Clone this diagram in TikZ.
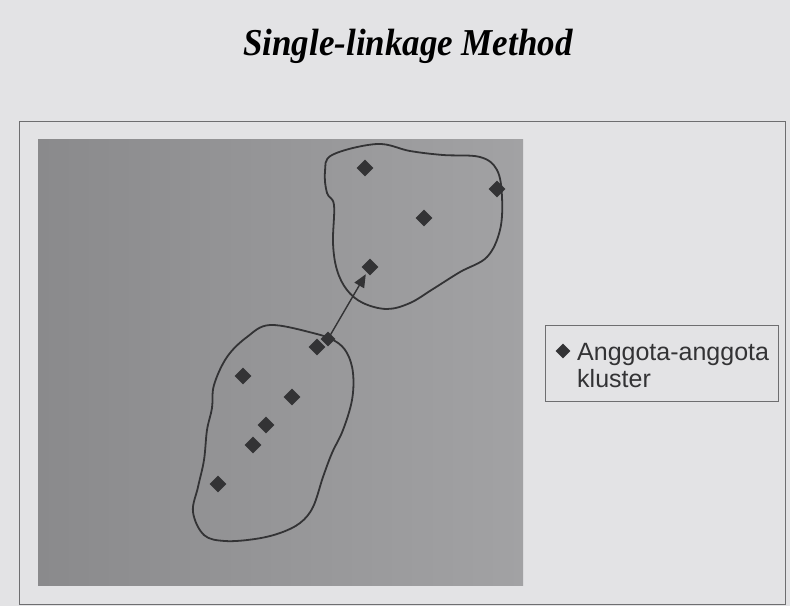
\documentclass[tikz,border=0pt]{standalone}
\usepackage{fontspec}
\setmainfont{Liberation Serif}
\newfontfamily\legendfont{Liberation Sans}
\usetikzlibrary{shapes.geometric,arrows.meta}
\definecolor{paper}{HTML}{E3E3E5}
\definecolor{framec}{HTML}{6E6E70}
\definecolor{plotL}{HTML}{8A8A8C}
\definecolor{plotM}{HTML}{AEAEAF}
\definecolor{plotR}{HTML}{A2A2A4}
\definecolor{ink}{HTML}{333335}
\tikzset{
  pt/.style={shape=diamond, fill=ink, draw=none, minimum width=17pt, minimum height=17pt, inner sep=0pt},
  blob/.style={draw=ink, line width=1.8pt},
  framebox/.style={draw=framec, line width=1pt},
  legtext/.style={anchor=base west, inner sep=0pt, font=\legendfont\fontsize{25}{27}\selectfont, text=ink},
}
\begin{document}
\begin{tikzpicture}[x=1pt,y=-1pt]
\useasboundingbox (0,0) rectangle (790,606);
\fill[paper] (0,0) rectangle (790,606);
% title
\node[anchor=base, inner sep=0pt] (title) at (408,55)
  {\scalebox{0.92}[1]{\fontsize{38}{40}\selectfont\bfseries\itshape Single-linkage Method}};
% outer frame
\draw[framebox] (19,121) rectangle (785,604);
% plot area
\path[left color=plotL, middle color=plotM, right color=plotR] (38,139) rectangle (523,585);
% top cluster outline
\draw[blob] plot[smooth cycle, tension=0.6] coordinates {
  (332,155) (377,144) (410,151) (443,155) (480,157) (497,170) (502,197)
  (500,230) (487,257) (460,272) (433,289) (410,303) (387,309) (363,303)
  (347,290) (337,270) (333,243) (334,205) (327,193) (325,172)};
% bottom cluster outline
\draw[blob] plot[smooth cycle, tension=0.6] coordinates {
  (270,325) (313,333) (335,341) (347,353) (353,373) (352,400) (343,430)
  (332,453) (323,477) (313,507) (300,523) (280,533) (255,539) (225,541)
  (204,535) (193,512) (198,487) (204,460) (207,430) (212,408) (214,385)
  (227,357) (247,337)};
% top cluster members
\node[pt] (t1) at (365,168) {};
\node[pt] (t2) at (497,189) {};
\node[pt] (t3) at (424,218) {};
\node[pt] (t4) at (370,267) {};
% bottom cluster members
\node[pt] (b1) at (317,347) {};
\node[pt, minimum width=15pt, minimum height=15pt] (s) at (328,339) {};
\node[pt] (b2) at (243,376) {};
\node[pt] (b3) at (292,397) {};
\node[pt] (b4) at (266,425) {};
\node[pt] (b5) at (253,445) {};
\node[pt] (b6) at (218,484) {};
% single-linkage arrow
\draw[draw=ink, line width=1.4pt, -{Triangle[length=13pt,width=11pt]}, shorten >=2pt] (s.center) -- (t4);
% legend
\draw[draw=framec, line width=0.8pt] (545,325) rectangle (778,401);
\node[pt, minimum width=15pt, minimum height=15pt] (lg) at (563,351) {};
\node[legtext] (lgtext1) at (577,360) {Anggota-anggota};
\node[legtext] (lgtext2) at (577,387) {kluster};
\end{tikzpicture}
\end{document}
